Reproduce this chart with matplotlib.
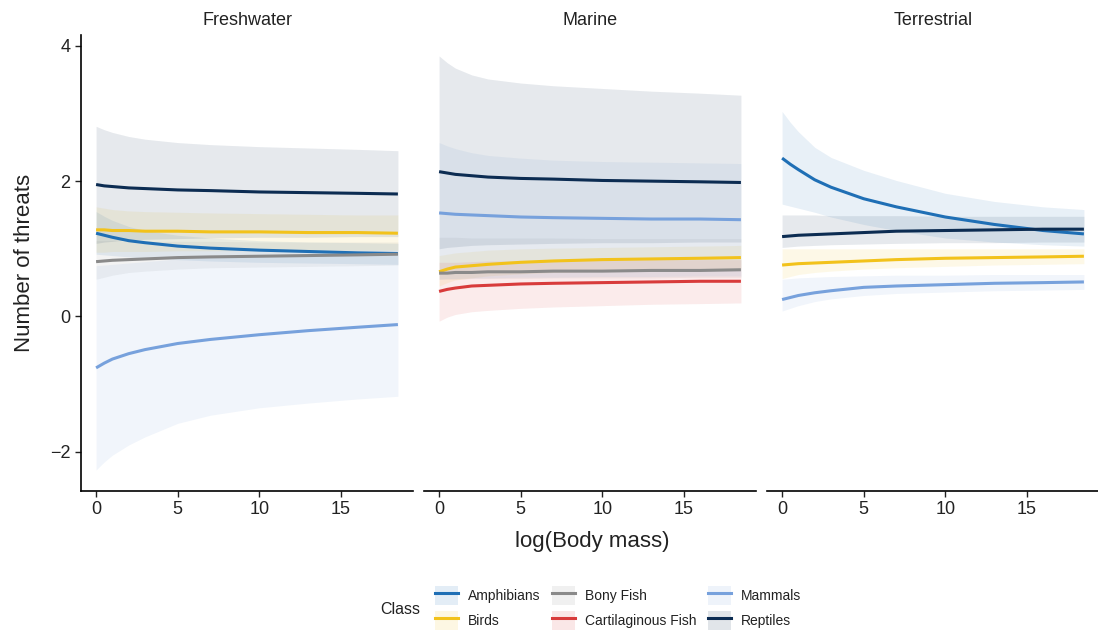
import matplotlib
matplotlib.use("Agg")
import numpy as np
from matplotlib import pyplot as plt
from matplotlib.lines import Line2D
from matplotlib.patches import Rectangle

plt.rcParams["font.family"] = ["Liberation Sans", "DejaVu Sans"]

body_mass = [0, 0.5, 1, 2, 3, 5, 7, 10, 13, 16, 18.5]

classes = ["Amphibians", "Birds", "Bony Fish", "Cartilaginous Fish", "Mammals", "Reptiles"]
colors = {
    "Amphibians": "#1f6fb5",
    "Birds": "#f2c21b",
    "Bony Fish": "#8a8a8a",
    "Cartilaginous Fish": "#d83b3b",
    "Mammals": "#77a1dc",
    "Reptiles": "#0c2c52",
}
habitats = ["Freshwater", "Marine", "Terrestrial"]

fresh_fit = {
    "Amphibians": [1.23, 1.20, 1.17, 1.12, 1.09, 1.04, 1.01, 0.98, 0.96, 0.94, 0.93],
    "Birds": [1.28, 1.28, 1.27, 1.27, 1.26, 1.26, 1.25, 1.25, 1.24, 1.24, 1.23],
    "Bony Fish": [0.81, 0.82, 0.83, 0.84, 0.85, 0.87, 0.88, 0.89, 0.90, 0.91, 0.92],
    "Mammals": [-0.76, -0.69, -0.63, -0.55, -0.49, -0.40, -0.34, -0.27, -0.21, -0.16, -0.12],
    "Reptiles": [1.95, 1.93, 1.92, 1.90, 1.89, 1.87, 1.86, 1.84, 1.83, 1.82, 1.81],
}
fresh_low = {
    "Amphibians": [0.92, 0.91, 0.90, 0.88, 0.86, 0.84, 0.82, 0.80, 0.79, 0.78, 0.77],
    "Birds": [0.95, 0.95, 0.96, 0.96, 0.96, 0.97, 0.97, 0.97, 0.98, 0.98, 0.98],
    "Bony Fish": [0.55, 0.58, 0.61, 0.65, 0.67, 0.70, 0.72, 0.73, 0.74, 0.75, 0.76],
    "Mammals": [-2.27, -2.15, -2.05, -1.90, -1.78, -1.58, -1.46, -1.35, -1.28, -1.22, -1.18],
    "Reptiles": [1.08, 1.10, 1.11, 1.13, 1.14, 1.15, 1.16, 1.17, 1.17, 1.18, 1.18],
}
fresh_high = {
    "Amphibians": [1.55, 1.48, 1.42, 1.33, 1.27, 1.20, 1.16, 1.12, 1.10, 1.09, 1.08],
    "Birds": [1.62, 1.60, 1.58, 1.56, 1.55, 1.54, 1.53, 1.52, 1.51, 1.50, 1.50],
    "Bony Fish": [1.12, 1.12, 1.12, 1.11, 1.11, 1.11, 1.11, 1.10, 1.10, 1.10, 1.10],
    "Mammals": [0.75, 0.76, 0.77, 0.79, 0.81, 0.85, 0.88, 0.91, 0.93, 0.94, 0.94],
    "Reptiles": [2.81, 2.76, 2.72, 2.66, 2.62, 2.57, 2.54, 2.51, 2.49, 2.47, 2.45],
}

marine_fit = {
    "Birds": [0.66, 0.70, 0.73, 0.75, 0.77, 0.80, 0.82, 0.84, 0.85, 0.86, 0.87],
    "Bony Fish": [0.64, 0.64, 0.65, 0.65, 0.66, 0.66, 0.67, 0.67, 0.68, 0.68, 0.69],
    "Cartilaginous Fish": [0.37, 0.40, 0.42, 0.45, 0.46, 0.48, 0.49, 0.50, 0.51, 0.52, 0.52],
    "Mammals": [1.53, 1.52, 1.51, 1.50, 1.49, 1.47, 1.46, 1.45, 1.44, 1.44, 1.43],
    "Reptiles": [2.14, 2.12, 2.10, 2.08, 2.06, 2.04, 2.03, 2.01, 2.00, 1.99, 1.98],
}
marine_low = {
    "Birds": [0.45, 0.50, 0.54, 0.57, 0.60, 0.63, 0.65, 0.67, 0.68, 0.69, 0.70],
    "Bony Fish": [0.55, 0.55, 0.55, 0.56, 0.56, 0.56, 0.57, 0.57, 0.57, 0.58, 0.58],
    "Cartilaginous Fish": [-0.07, -0.01, 0.03, 0.07, 0.09, 0.12, 0.14, 0.16, 0.18, 0.19, 0.20],
    "Mammals": [0.55, 0.56, 0.56, 0.57, 0.57, 0.58, 0.58, 0.59, 0.59, 0.60, 0.60],
    "Reptiles": [1.00, 1.02, 1.03, 1.05, 1.06, 1.07, 1.08, 1.09, 1.09, 1.10, 1.10],
}
marine_high = {
    "Birds": [0.90, 0.92, 0.94, 0.96, 0.98, 1.00, 1.01, 1.02, 1.03, 1.04, 1.05],
    "Bony Fish": [1.17, 1.17, 1.17, 1.16, 1.16, 1.16, 1.16, 1.15, 1.15, 1.15, 1.15],
    "Cartilaginous Fish": [0.80, 0.80, 0.80, 0.81, 0.82, 0.82, 0.83, 0.83, 0.84, 0.84, 0.84],
    "Mammals": [2.57, 2.52, 2.48, 2.42, 2.38, 2.34, 2.31, 2.29, 2.28, 2.27, 2.26],
    "Reptiles": [3.85, 3.75, 3.67, 3.57, 3.51, 3.45, 3.41, 3.37, 3.33, 3.30, 3.27],
}

terr_fit = {
    "Amphibians": [2.34, 2.25, 2.17, 2.02, 1.91, 1.74, 1.62, 1.47, 1.36, 1.27, 1.22],
    "Birds": [0.76, 0.77, 0.78, 0.79, 0.80, 0.82, 0.84, 0.86, 0.87, 0.88, 0.89],
    "Mammals": [0.25, 0.28, 0.31, 0.35, 0.38, 0.43, 0.45, 0.47, 0.49, 0.50, 0.51],
    "Reptiles": [1.18, 1.19, 1.20, 1.21, 1.22, 1.24, 1.26, 1.27, 1.28, 1.29, 1.29],
}
terr_low = {
    "Amphibians": [1.66, 1.63, 1.60, 1.54, 1.47, 1.36, 1.27, 1.16, 1.10, 1.06, 1.04],
    "Birds": [0.56, 0.59, 0.62, 0.65, 0.67, 0.70, 0.72, 0.74, 0.76, 0.77, 0.78],
    "Mammals": [0.08, 0.12, 0.16, 0.22, 0.26, 0.31, 0.34, 0.36, 0.38, 0.39, 0.40],
    "Reptiles": [1.02, 1.03, 1.04, 1.05, 1.06, 1.07, 1.08, 1.09, 1.09, 1.10, 1.10],
}
terr_high = {
    "Amphibians": [3.03, 2.87, 2.73, 2.50, 2.35, 2.16, 2.01, 1.82, 1.70, 1.62, 1.58],
    "Birds": [1.00, 1.00, 1.00, 1.00, 1.00, 1.00, 1.00, 1.00, 1.00, 1.00, 1.00],
    "Mammals": [0.55, 0.56, 0.57, 0.58, 0.59, 0.60, 0.61, 0.61, 0.62, 0.62, 0.62],
    "Reptiles": [1.50, 1.50, 1.50, 1.50, 1.49, 1.49, 1.49, 1.48, 1.48, 1.48, 1.48],
}

panels = [
    (fresh_fit, fresh_low, fresh_high),
    (marine_fit, marine_low, marine_high),
    (terr_fit, terr_low, terr_high),
]

W, H = 1098, 634
fig = plt.figure(figsize=(W / 100, H / 100), dpi=100)

# panel geometry in pixels
left0, pw, step = 81, 332, 343
top, bottom = 35, 491

axes = []
for i, (hab, (fit, low, high)) in enumerate(zip(habitats, panels)):
    ax = fig.add_axes([(left0 + i * step) / W, 1 - bottom / H, pw / W, (bottom - top) / H])
    axes.append(ax)
    for c in classes:
        if c not in fit:
            continue
        ax.fill_between(body_mass, low[c], high[c], color=colors[c], alpha=0.1, lw=0)
    for c in classes:
        if c not in fit:
            continue
        ax.plot(body_mass, fit[c], color=colors[c], lw=2.2, solid_capstyle="butt",
                solid_joinstyle="round")
    ax.set_xlim(-0.925, 19.425)
    ax.set_ylim(-2.58, 4.16)
    ax.set_xticks([0, 5, 10, 15])
    ax.set_yticks([-2, 0, 2, 4])
    ax.set_title(hab, fontsize=13, pad=7, color="#222222")
    for s in ["top", "right"]:
        ax.spines[s].set_visible(False)
    ax.spines["bottom"].set_linewidth(1.2)
    ax.spines["left"].set_linewidth(1.2)
    ax.tick_params(direction="out", length=4, width=1, labelsize=13, colors="#222222")
    if i > 0:
        ax.spines["left"].set_visible(False)
        ax.tick_params(axis="y", left=False, labelleft=False)

fig.text(25 / W, 1 - 263 / H, "Number of threats", rotation=90, ha="center",
         va="center", fontsize=16, color="#222222")
fig.text(592 / W, 1 - 541 / H, "log(Body mass)", ha="center", va="center",
         fontsize=16, color="#222222")

handles = []
for c in classes:
    patch = Rectangle((0, 0), 1, 1, facecolor=colors[c], alpha=0.12, lw=0)
    line = Line2D([], [], color=colors[c], lw=2.2)
    handles.append((patch, line))
leg = fig.legend(handles, classes, ncol=3, loc="center",
                 bbox_to_anchor=(618 / W, 1 - 608 / H), frameon=False,
                 fontsize=10, handlelength=1.7, handleheight=1.7,
                 handletextpad=0.7, columnspacing=0.8, labelspacing=0.4,
                 borderpad=0)
for t in leg.get_texts():
    t.set_color("#222222")
fig.text(400 / W, 1 - 609 / H, "Class", ha="center", va="center",
         fontsize=11.5, color="#222222")

fig.savefig("out.png", dpi=100)
